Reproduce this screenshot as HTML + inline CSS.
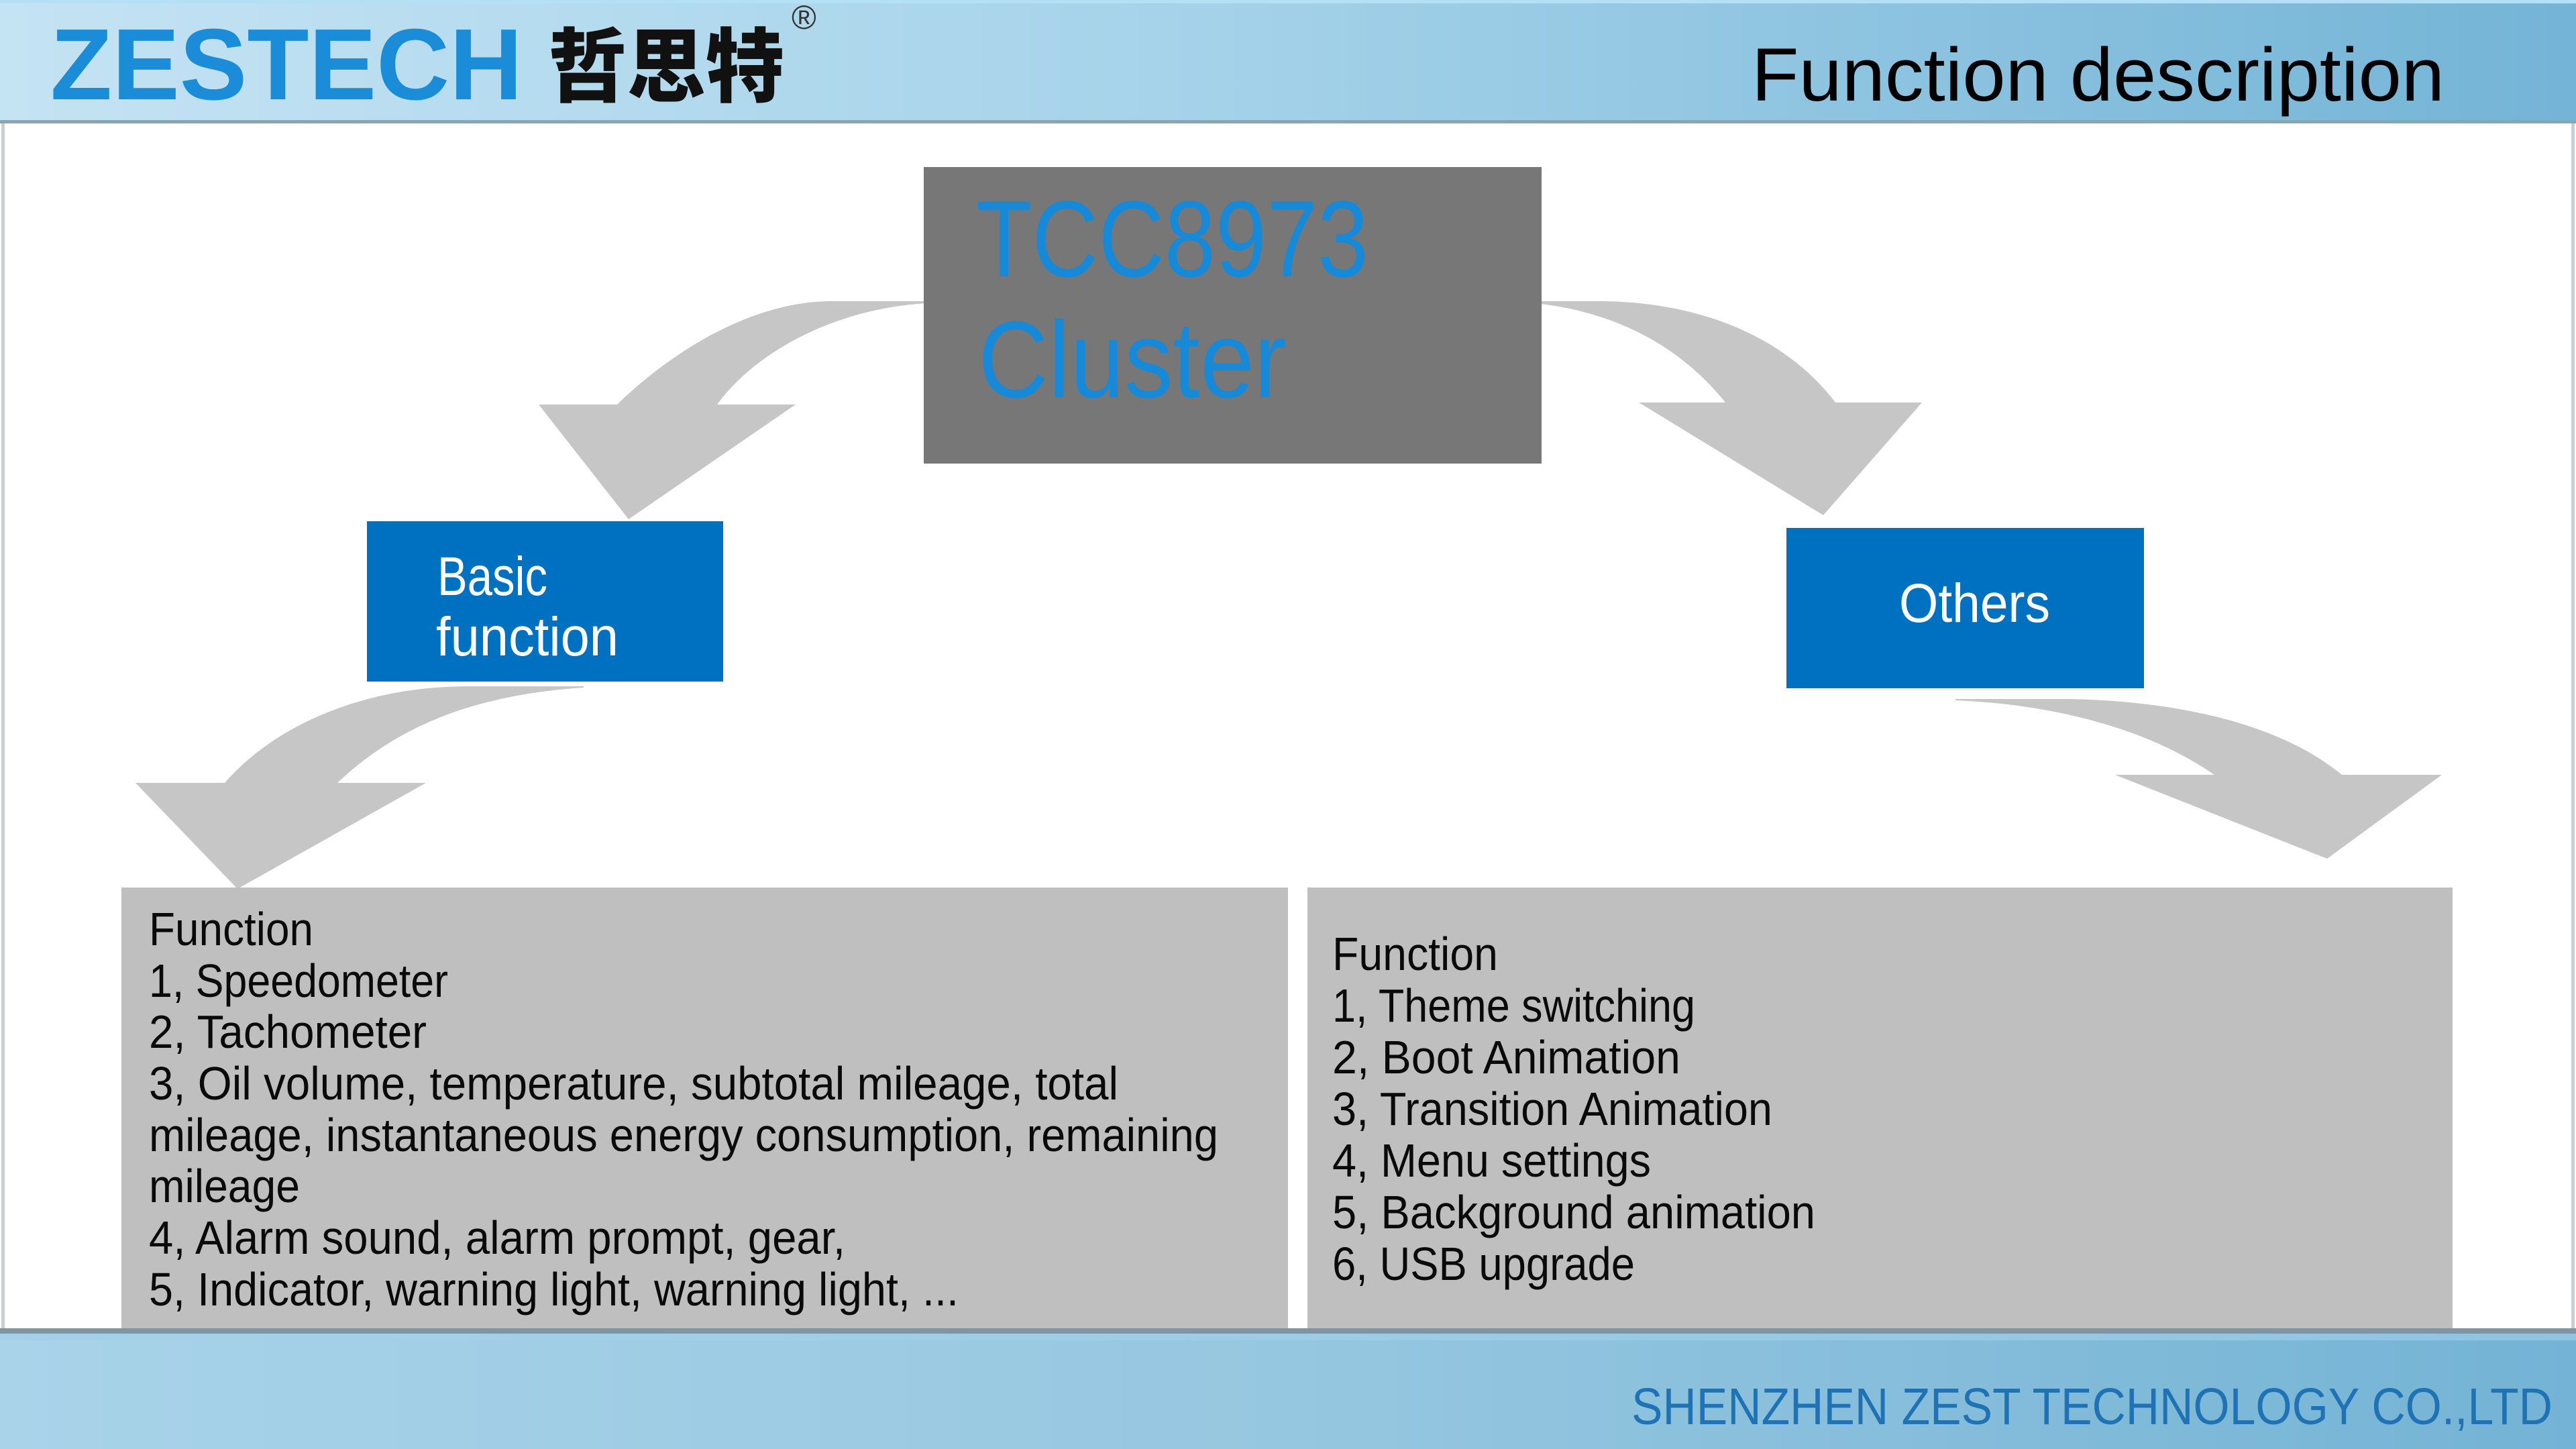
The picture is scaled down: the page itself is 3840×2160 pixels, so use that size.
<!DOCTYPE html>
<html>
<head>
<meta charset="utf-8">
<style>
html,body{margin:0;padding:0;background:#fff;}
svg{display:block;}
text{font-family:"Liberation Sans","Noto Sans CJK SC",sans-serif;}
</style>
</head>
<body>
<svg width="3840" height="2160" viewBox="0 0 3840 2160" xmlns="http://www.w3.org/2000/svg">
<defs>
<linearGradient id="hdr" x1="0" y1="0" x2="1" y2="0">
<stop offset="0" stop-color="#c4e3f3"/>
<stop offset="0.45" stop-color="#a6d3ea"/>
<stop offset="1" stop-color="#74b4d6"/>
</linearGradient>
<linearGradient id="ftr" x1="0" y1="0" x2="1" y2="0">
<stop offset="0" stop-color="#a8d3e9"/>
<stop offset="0.5" stop-color="#96c7e0"/>
<stop offset="1" stop-color="#74b3d5"/>
</linearGradient>
</defs>

<!-- background -->
<rect x="0" y="0" width="3840" height="2160" fill="#ffffff"/>
<rect x="2" y="180" width="5" height="1800" fill="#c8cfd3"/>
<rect x="3833" y="180" width="5" height="1800" fill="#c8cfd3"/>

<!-- header -->
<rect x="0" y="0" width="3840" height="181" fill="url(#hdr)"/>
<rect x="0" y="0" width="3840" height="5" fill="#b4e0f6"/>
<rect x="0" y="179" width="3840" height="5" fill="#8ba4b1"/>

<text x="75" y="148" font-size="151" font-weight="bold" fill="#1b8cd8" textLength="704" lengthAdjust="spacingAndGlyphs">ZESTECH</text>
<text x="817" y="142" font-size="120" font-weight="900" fill="#111111" textLength="352" lengthAdjust="spacingAndGlyphs" style="font-family:'Noto Sans CJK SC','WenQuanYi Zen Hei',sans-serif;">哲思特</text>
<text x="1180" y="43" font-size="50" fill="#333333">®</text>

<text x="2611" y="150" font-size="112" fill="#000000" textLength="1033" lengthAdjust="spacingAndGlyphs">Function description</text>

<!-- arrows -->
<g fill="#c6c6c6">
<path d="M1380,449 L1239,449 C1125,449 1005,520 920,603 L803,603 L937,774 L1186,603 L1069,603 C1130,520 1250,460 1380,452 Z"/>
<path d="M2296,449 L2383,449 C2530,449 2660,500 2736,600 L2865,600 L2718,768 L2443,600 L2572,600 C2500,510 2400,465 2296,453 Z"/>
<path d="M870,1023 L698,1023 C560,1023 420,1070 335,1167 L202,1167 L354,1325 L635,1167 L503,1167 C600,1075 720,1035 870,1025 Z"/>
<path d="M2915,1042 L3084,1042 C3250,1045 3400,1080 3491,1155 L3640,1155 L3469,1280 L3153,1155 L3301,1155 C3200,1085 3060,1050 2915,1044 Z"/>
</g>

<!-- central dark box -->
<rect x="1377" y="249" width="921" height="442" fill="#777777"/>
<text x="1455" y="412" font-size="162" fill="#168ad9" textLength="585" lengthAdjust="spacingAndGlyphs">TCC8973</text>
<text x="1458" y="592" font-size="162" fill="#168ad9" textLength="460" lengthAdjust="spacingAndGlyphs">Cluster</text>

<!-- blue boxes -->
<rect x="547" y="777" width="531" height="239" fill="#0070c0"/>
<text x="652" y="887" font-size="82" fill="#ffffff" textLength="164" lengthAdjust="spacingAndGlyphs">Basic</text>
<text x="650" y="977" font-size="82" fill="#ffffff" textLength="272" lengthAdjust="spacingAndGlyphs">function</text>

<rect x="2663" y="787" width="533" height="239" fill="#0070c0"/>
<text x="2831" y="927" font-size="82" fill="#ffffff" textLength="225" lengthAdjust="spacingAndGlyphs">Others</text>

<!-- gray boxes -->
<rect x="181" y="1323" width="1739" height="665" fill="#bfbfbf"/>
<rect x="1949" y="1323" width="1707" height="665" fill="#bfbfbf"/>

<g font-size="70" fill="#0a0a0a">
<text x="222" y="1409" textLength="245" lengthAdjust="spacingAndGlyphs">Function</text>
<text x="222" y="1486" textLength="446" lengthAdjust="spacingAndGlyphs">1, Speedometer</text>
<text x="222" y="1562" textLength="414" lengthAdjust="spacingAndGlyphs">2, Tachometer</text>
<text x="222" y="1639" textLength="1445" lengthAdjust="spacingAndGlyphs">3, Oil volume, temperature, subtotal mileage, total</text>
<text x="222" y="1716" textLength="1594" lengthAdjust="spacingAndGlyphs">mileage, instantaneous energy consumption, remaining</text>
<text x="222" y="1792" textLength="225" lengthAdjust="spacingAndGlyphs">mileage</text>
<text x="222" y="1869" textLength="1038" lengthAdjust="spacingAndGlyphs">4, Alarm sound, alarm prompt, gear,</text>
<text x="222" y="1946" textLength="1207" lengthAdjust="spacingAndGlyphs">5, Indicator, warning light, warning light, ...</text>

<text x="1986" y="1446" textLength="247" lengthAdjust="spacingAndGlyphs">Function</text>
<text x="1986" y="1523" textLength="541" lengthAdjust="spacingAndGlyphs">1, Theme switching</text>
<text x="1986" y="1600" textLength="519" lengthAdjust="spacingAndGlyphs">2, Boot Animation</text>
<text x="1986" y="1677" textLength="656" lengthAdjust="spacingAndGlyphs">3, Transition Animation</text>
<text x="1986" y="1754" textLength="475" lengthAdjust="spacingAndGlyphs">4, Menu settings</text>
<text x="1986" y="1831" textLength="720" lengthAdjust="spacingAndGlyphs">5, Background animation</text>
<text x="1986" y="1908" textLength="451" lengthAdjust="spacingAndGlyphs">6, USB upgrade</text>
</g>

<!-- footer -->
<rect x="0" y="1980" width="3840" height="180" fill="url(#ftr)"/>
<rect x="0" y="1980" width="3840" height="8" fill="#7f95a2"/>
<rect x="0" y="1988" width="3840" height="10" fill="#a2d1ea" opacity="0.6"/>
<text x="2432" y="2123" font-size="77" fill="#1f72b3" textLength="1373" lengthAdjust="spacingAndGlyphs">SHENZHEN ZEST TECHNOLOGY CO.,LTD</text>
</svg>
</body>
</html>
